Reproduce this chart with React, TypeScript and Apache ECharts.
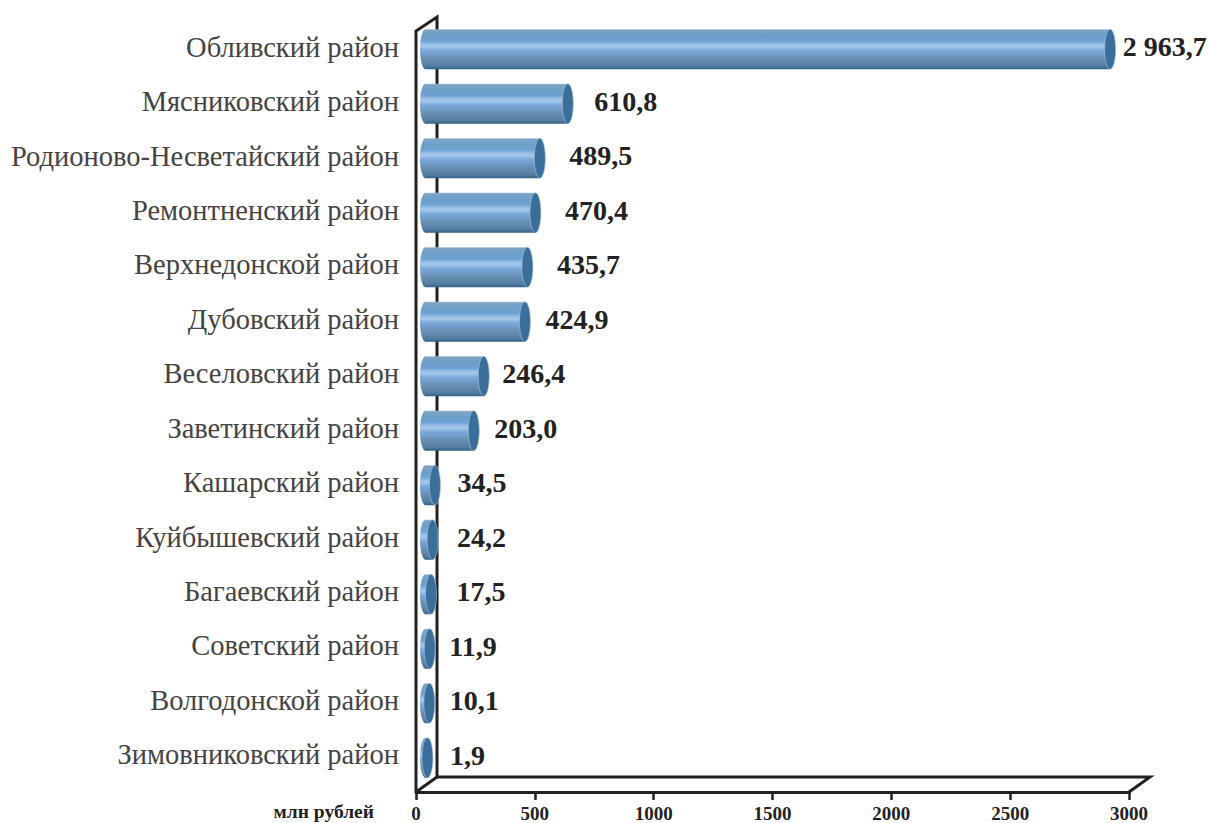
import React, { useEffect, useRef } from "react";
import * as echarts from "echarts";

const categories = [
  "Обливский район", "Мясниковский район", "Родионово-Несветайский район", "Ремонтненский район",
  "Верхнедонской район", "Дубовский район", "Веселовский район", "Заветинский район",
  "Кашарский район", "Куйбышевский район", "Багаевский район", "Советский район",
  "Волгодонской район", "Зимовниковский район",
];
const values = [2963.7, 610.8, 489.5, 470.4, 435.7, 424.9, 246.4, 203.0, 34.5, 24.2, 17.5, 11.9, 10.1, 1.9];
const valueLabels = ["2 963,7", "610,8", "489,5", "470,4", "435,7", "424,9", "246,4", "203,0", "34,5", "24,2", "17,5", "11,9", "10,1", "1,9"];
const unitLabel = "млн рублей";
// distance from the bar's end cap to the start of its label, as in the reference
const labelGaps = [7, 21, 24, 24, 24, 15, 13, 15, 17, 19, 20, 14, 15, 17];

const SERIF = '"Liberation Serif", serif';
const stripes: [number, string][] = [
  [0, "#a4bdd2"], [0.03, "#7ba4c6"], [0.18, "#6c9ec8"], [0.3, "#6da3d6"], [0.34, "#86b2de"],
  [0.38, "#9cc0e6"], [0.44, "#a6c8ea"], [0.48, "#8db7e2"], [0.54, "#78a8d8"], [0.62, "#729fcd"],
  [0.7, "#6a92b8"], [0.84, "#5f86a8"], [0.93, "#4f7a9e"], [1, "#2f5f86"],
];
const bodyFill = new echarts.graphic.LinearGradient(0, 0, 0, 1, stripes.map(([offset, color]) => ({ offset, color })));

const renderBar = (params: any, api: any) => {
  const i = api.value(2);
  const start = api.coord([0, i]);
  const end = api.coord([api.value(0), i]);
  const h = 40;
  const rx = 5.5;
  const x0 = start[0] - 1.5;
  const cy = start[1];
  return {
    type: "group",
    children: [
      { type: "ellipse", shape: { cx: x0, cy, rx, ry: h / 2 }, style: { fill: bodyFill } },
      { type: "rect", shape: { x: x0, y: cy - h / 2, width: Math.max(end[0] - x0, 0), height: h }, style: { fill: bodyFill } },
      { type: "ellipse", shape: { cx: end[0], cy, rx, ry: h / 2 }, style: { fill: "#3a6f9b", stroke: "#a9c3d8", lineWidth: 0.6 } },
      {
        type: "text",
        x: end[0] + rx + labelGaps[i],
        y: cy - 2.5,
        style: {
          text: valueLabels[i], fill: "#222222", fontFamily: SERIF, fontWeight: "bold", fontSize: 28,
          align: "left", verticalAlign: "middle",
        },
      },
    ],
  };
};

export default function App() {
  const ref = useRef<HTMLDivElement>(null);
  useEffect(() => {
    const chart = echarts.init(ref.current!, null, { renderer: "svg" });
    chart.setOption({
      animation: false,
      backgroundColor: "#ffffff",
      grid: [
        { left: 416, top: 21, width: 713, height: 771 },
        { left: 427, top: 22, width: 691.5, height: 763 },
        { left: 427, top: 20, width: 691.5, height: 762 },
      ],
      xAxis: [
        {
          gridIndex: 0, type: "value", min: 0, max: 3000, interval: 500,
          axisLine: { show: true, lineStyle: { color: "#222222", width: 3 } },
          axisTick: { show: true, length: 8, lineStyle: { color: "#222222", width: 2.5 } },
          splitLine: { show: false },
          axisLabel: {
            show: true, margin: 12, fontFamily: SERIF, fontWeight: "bold", fontSize: 19, color: "#222222",
            showMinLabel: true, showMaxLabel: true,
            formatter: (v: number) => String(v),
          },
        },
        { gridIndex: 1, type: "value", min: 0, max: 3000, show: false },
        { gridIndex: 2, type: "value", min: 0, max: 3000, show: false },
      ],
      yAxis: [
        { gridIndex: 0, type: "value", show: false },
        { gridIndex: 1, type: "category", inverse: true, data: categories, show: false },
        {
          gridIndex: 2, type: "category", inverse: true, data: categories,
          axisLine: { show: false }, axisTick: { show: false },
          axisLabel: { margin: 28, fontFamily: SERIF, fontSize: 28.5, color: "#444444", interval: 0 },
        },
      ],
      graphic: [
        {
          type: "polyline", z: 1,
          shape: { points: [[416, 792], [416, 31], [437, 17], [437, 777], [1150, 777], [1129, 792]] },
          style: { stroke: "#222222", lineWidth: 3, fill: "none" },
        },
        { type: "line", z: 1, shape: { x1: 416, y1: 792, x2: 437, y2: 777 }, style: { stroke: "#222222", lineWidth: 3 } },
        {
          type: "text", z: 5, x: 374, y: 811,
          style: { text: unitLabel, fill: "#222222", fontFamily: SERIF, fontWeight: "bold", fontSize: 19.5, align: "right", verticalAlign: "middle" },
        },
      ],
      series: [
        {
          type: "custom", xAxisIndex: 1, yAxisIndex: 1, z: 3, clip: false,
          data: values.map((v, i) => [v, categories[i], i]),
          encode: { x: 0, y: 1 },
          renderItem: renderBar,
        },
      ],
    });
    return () => chart.dispose();
  }, []);
  return <div ref={ref} style={{ position: "absolute", left: 0, top: 0, width: 1209, height: 823 }} />;
}
